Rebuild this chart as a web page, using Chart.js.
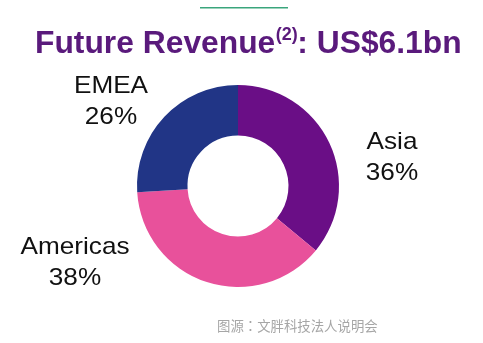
<!DOCTYPE html>
<html>
<head>
<meta charset="utf-8">
<script src="https://cdn.jsdelivr.net/npm/chart.js@4/dist/chart.umd.min.js"></script>
<style>
  html, body { margin: 0; padding: 0; background: #ffffff; }
  #wrap { position: relative; width: 483px; height: 343px; }
</style>
</head>
<body>
<div id="wrap"><canvas id="revenueChart" width="483" height="343"></canvas></div>
<script>
// Revenue split by region
const regions = ['Asia', 'Americas', 'EMEA'];
const shares = [36, 38, 26];
const sliceColors = ['#6a0e86', '#e8519b', '#213586'];
const titleParts = ['Future Revenue', '(2)', ': US$6.1bn'];
const sourceNote = '图源：文胖科技法人说明会';

// where each region label sits (center x, baseline of first line)
const labelAnchors = [
  { x: 392, y: 149 },   // Asia
  { x: 75,  y: 254 },   // Americas
  { x: 111, y: 93 },    // EMEA
];

const textPlugin = {
  id: 'slideText',
  afterDraw(chart) {
    const ctx = chart.ctx;
    ctx.save();

    // thin green rule at the top
    ctx.fillStyle = '#3aa57c';
    ctx.fillRect(200, 7, 88, 1.5);

    // title with superscript footnote mark
    ctx.fillStyle = '#5a1a7c';
    ctx.textBaseline = 'alphabetic';
    ctx.textAlign = 'left';
    let x = 35;
    ctx.font = 'bold 31.8px "Liberation Sans", Arial, sans-serif';
    ctx.fillText(titleParts[0], x, 53);
    x += ctx.measureText(titleParts[0]).width + 0.5;
    ctx.font = 'bold 18px "Liberation Sans", Arial, sans-serif';
    ctx.fillText(titleParts[1], x, 40);
    x += ctx.measureText(titleParts[1]).width - 0.5;
    ctx.font = 'bold 31.8px "Liberation Sans", Arial, sans-serif';
    ctx.fillText(titleParts[2], x, 53);

    // region labels (slightly wide lettering)
    ctx.fillStyle = '#111111';
    ctx.textAlign = 'center';
    ctx.font = '24px "Liberation Sans", Arial, sans-serif';
    const data = chart.data.datasets[0].data;
    chart.data.labels.forEach((name, i) => {
      const a = labelAnchors[i];
      ctx.save();
      ctx.translate(a.x, a.y);
      ctx.scale(1.09, 1);
      ctx.fillText(name, 0, 0);
      ctx.fillText(data[i] + '%', 0, 31);
      ctx.restore();
    });

    // source note
    ctx.fillStyle = '#a6a6a6';
    ctx.textAlign = 'left';
    ctx.font = '13.4px "Noto Sans CJK TC", sans-serif';
    ctx.fillText(sourceNote, 217, 331);

    ctx.restore();
  }
};

new Chart(document.getElementById('revenueChart'), {
  type: 'doughnut',
  data: {
    labels: regions,
    datasets: [{
      data: shares,
      backgroundColor: sliceColors,
      borderWidth: 0,
    }]
  },
  options: {
    responsive: false,
    animation: false,
    cutout: '50%',
    layout: { padding: { left: 137, right: 144, top: 85, bottom: 56 } },
    plugins: {
      legend: { display: false },
      tooltip: { enabled: false },
      title: { display: false },
    }
  },
  plugins: [textPlugin]
});
</script>
</body>
</html>
